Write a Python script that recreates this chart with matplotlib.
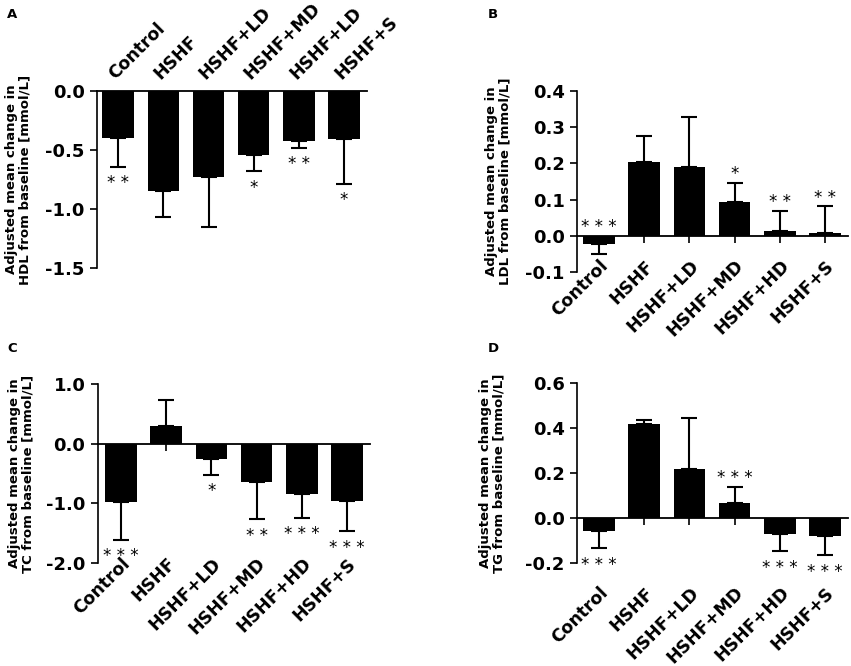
import numpy as np
import matplotlib
matplotlib.use('Agg')
import matplotlib.pyplot as plt

plt.rcParams['font.family'] = 'DejaVu Sans'
plt.rcParams['axes.unicode_minus'] = False

# group names (panel A repeats "HSHF+LD" as in the original figure)
groups_a = ['Control', 'HSHF', 'HSHF+LD', 'HSHF+MD', 'HSHF+LD', 'HSHF+S']
groups = ['Control', 'HSHF', 'HSHF+LD', 'HSHF+MD', 'HSHF+HD', 'HSHF+S']

# A: HDL
hdl_mean = [-0.40, -0.85, -0.73, -0.54, -0.42, -0.41]
hdl_err = [0.24, 0.22, 0.42, 0.14, 0.06, 0.375]
hdl_stars = ['**', '', '', '*', '**', '*']
hdl_side = ['down', 'down', 'down', 'down', 'down', 'down']

# B: LDL
ldl_mean = [-0.023, 0.204, 0.19, 0.094, 0.013, 0.008]
ldl_err = [0.026, 0.073, 0.137, 0.053, 0.056, 0.074]
ldl_stars = ['***', '', '', '*', '**', '**']
ldl_side = ['up', 'up', 'up', 'up', 'up', 'up']

# C: TC
tc_mean = [-0.98, 0.29, -0.26, -0.64, -0.85, -0.96]
tc_err = [0.63, 0.45, 0.26, 0.62, 0.39, 0.51]
tc_stars = ['***', '', '*', '**', '***', '***']
tc_side = ['down', 'down', 'down', 'down', 'down', 'down']

# D: TG
tg_mean = [-0.059, 0.42, 0.216, 0.067, -0.07, -0.079]
tg_err = [0.074, 0.017, 0.23, 0.072, 0.078, 0.087]
tg_stars = ['***', '', '', '***', '***', '***']
tg_side = ['down', 'up', 'up', 'up', 'down', 'down']

W, H = 851, 666


def rect(l, r, t, b):
    return [l / W, 1 - b / H, (r - l) / W, (b - t) / H]


def panel(ax, labels, mean, err, stars, sides, ylim, yticks, ylabel,
          xlim, top=False, pad=4, lab_x=-0.29):
    mean = np.array(mean)
    err = np.array(err)
    x = np.arange(len(mean))
    lo = np.where(mean < 0, err, 0)
    hi = np.where(mean >= 0, err, 0)
    ax.bar(x, mean, width=0.7, color='black', zorder=2)
    ax.errorbar(x, mean, yerr=[lo, hi], fmt='none', ecolor='black',
                elinewidth=1.5, capsize=6, capthick=1.5, zorder=1)

    for xi, m, e, s, side in zip(x, mean, err, stars, sides):
        if not s:
            continue
        txt = ' '.join(s)
        if side == 'down':
            y = min(0, m - e if m < 0 else 0)
            off = -12
        else:
            y = max(0, m + e if m > 0 else 0)
            off = 6
        ax.annotate(txt, xy=(xi, y), xytext=(0, off), textcoords='offset points',
                    ha='center', va='center', fontsize=12, annotation_clip=False)

    ax.set_xlim(*xlim)
    ax.set_ylim(*ylim)
    ax.set_yticks(yticks)
    ax.set_yticklabels(['%.1f' % v for v in yticks])
    for sp in ['right', 'bottom', 'top']:
        ax.spines[sp].set_visible(False)
    ax.spines['left'].set_linewidth(1.2)
    ax.tick_params(axis='y', length=5, width=1.2, labelsize=13, pad=4)
    for t in ax.get_yticklabels():
        t.set_fontweight('bold')

    ax.set_xticks(x)
    if top:
        ax.spines['top'].set_visible(True)
        ax.spines['top'].set_linewidth(1.3)
        ax.xaxis.tick_top()
        ax.set_xticklabels(labels, rotation=45, ha='left', va='bottom',
                           rotation_mode='anchor', fontsize=12.5, fontweight='bold')
        ax.tick_params(axis='x', length=0, pad=pad)
    else:
        ax.set_xticklabels(labels, rotation=45, ha='right', va='top',
                           rotation_mode='anchor', fontsize=12.5, fontweight='bold')
        ax.tick_params(axis='x', length=0, pad=pad)
        # zero line with small ticks under each bar
        frac = (0 - ylim[0]) / (ylim[1] - ylim[0])
        sec = ax.secondary_xaxis(frac)
        sec.set_alignment('bottom')
        sec.set_xticks(x)
        sec.set_xticklabels([])
        sec.tick_params(axis='x', length=5, width=1.2, direction='out')
        sec.spines['bottom'].set_linewidth(1.3)

    ax.set_ylabel(ylabel, fontsize=9.5, fontweight='bold', va='center',
                  linespacing=1.05)
    ax.yaxis.set_label_coords(lab_x, 0.5)


fig = plt.figure(figsize=(W / 100, H / 100), dpi=100)

ax_a = fig.add_axes(rect(97, 367, 91, 268))
panel(ax_a, groups_a, hdl_mean, hdl_err, hdl_stars, hdl_side, (-1.5, 0),
      [0.0, -0.5, -1.0, -1.5],
      'Adjusted mean change in\nHDL from baseline [mmol/L]',
      (-0.47, 5.51), top=True, pad=6, lab_x=-0.293)

ax_b = fig.add_axes(rect(577, 848, 91, 272))
panel(ax_b, groups, ldl_mean, ldl_err, ldl_stars, ldl_side, (-0.1, 0.4),
      [0.4, 0.3, 0.2, 0.1, 0.0, -0.1],
      'Adjusted mean change in\nLDL from baseline [mmol/L]',
      (-0.49, 5.51), pad=-11, lab_x=-0.29)

ax_c = fig.add_axes(rect(98, 370, 384, 563))
panel(ax_c, groups, tc_mean, tc_err, tc_stars, tc_side, (-2.0, 1.0),
      [1.0, 0.0, -1.0, -2.0],
      'Adjusted mean change in\nTC from baseline [mmol/L]',
      (-0.51, 5.51), pad=-6, lab_x=-0.283)

ax_d = fig.add_axes(rect(577, 848, 383, 563))
panel(ax_d, groups, tg_mean, tg_err, tg_stars, tg_side, (-0.2, 0.6),
      [0.6, 0.4, 0.2, 0.0, -0.2],
      'Adjusted mean change in\nTG from baseline [mmol/L]',
      (-0.49, 5.51), pad=15, lab_x=-0.314)

for letter, px, py in [('A', 12, 15), ('B', 493, 15), ('C', 12, 349), ('D', 493, 349)]:
    fig.text(px / W, 1 - py / H, letter, fontsize=9.5, fontweight='bold',
             ha='center', va='center')

fig.savefig('out.png', dpi=100)
